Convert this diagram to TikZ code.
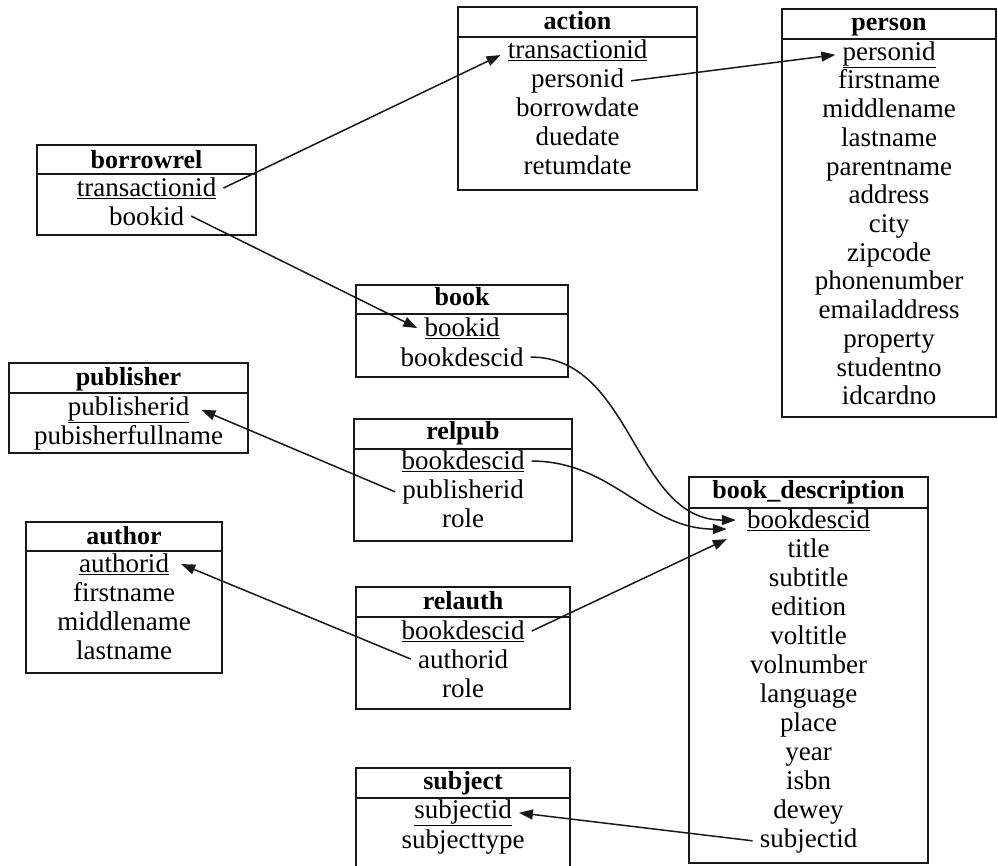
\documentclass[tikz,border=0pt]{standalone}
\usepackage{fontspec}
\setmainfont{Liberation Serif}
\usetikzlibrary{arrows.meta}
\begin{document}
\begin{tikzpicture}[x=1pt, y=-1pt,
  tabla/.style={draw=black!90, line width=1.8pt},
  titulo/.style={font=\fontsize{26}{26}\selectfont\bfseries, anchor=mid, inner sep=0pt, yshift=-5pt},
  campo/.style={font=\fontsize{27}{27}\selectfont, anchor=mid, inner xsep=7pt, inner ysep=1pt, yshift=-5pt},
  fk/.style={line width=1.5pt, black!90, -{Triangle[length=14pt,width=10pt]}}]
  \useasboundingbox (0,0) rectangle (998,865);
  % borrowrel
  \draw[tabla] (37,145) rectangle (256,235);
  \draw[tabla] (37,174) -- (256,174);
  \node[titulo] (borrowrel) at (146.5,161) {borrowrel};
  \node[campo] (borrowrel-transactionid) at (146.5,189) {\underline{transactionid}};
  \node[campo] (borrowrel-bookid) at (146.5,218) {bookid};
  % action
  \draw[tabla] (458,7) rectangle (697,190);
  \draw[tabla] (458,37) -- (697,37);
  \node[titulo] (action) at (577.5,22) {action};
  \node[campo] (action-transactionid) at (577.5,51) {\underline{transactionid}};
  \foreach \f [count=\i] in {personid,borrowdate,duedate,retumdate}
    \node[campo] (action-\f) at (577.5,51+29*\i) {\f};
  % person
  \draw[tabla] (782,9) rectangle (996,417);
  \draw[tabla] (782,39) -- (996,39);
  \node[titulo] (person) at (889,23) {person};
  \node[campo] (person-personid) at (889,53) {\underline{personid}};
  \foreach \f [count=\i] in {firstname,middlename,lastname,parentname,address,city,
      zipcode,phonenumber,emailaddress,property,studentno,idcardno}
    \node[campo] (person-\f) at (889,53+28.7*\i) {\f};
  % book
  \draw[tabla] (356,285) rectangle (568,377);
  \draw[tabla] (356,314) -- (568,314);
  \node[titulo] (book) at (462,298) {book};
  \node[campo] (book-bookid) at (462,329) {\underline{bookid}};
  \node[campo] (book-bookdescid) at (462,359) {bookdescid};
  % publisher
  \draw[tabla] (9,363) rectangle (248,453);
  \draw[tabla] (9,393) -- (248,393);
  \node[titulo] (publisher) at (128.5,378) {publisher};
  \node[campo] (publisher-publisherid) at (128.5,408) {\underline{publisherid}};
  \node[campo] (publisher-fullname) at (128.5,437) {pubisherfullname};
  % relpub
  \draw[tabla] (354,419) rectangle (572,541);
  \draw[tabla] (354,449) -- (572,449);
  \node[titulo] (relpub) at (463,432) {relpub};
  \node[campo] (relpub-bookdescid) at (463,462) {\underline{bookdescid}};
  \node[campo] (relpub-publisherid) at (463,491) {publisherid};
  \node[campo] (relpub-role) at (463,520) {role};
  % author
  \draw[tabla] (26,522) rectangle (222,673);
  \draw[tabla] (26,551) -- (222,551);
  \node[titulo] (author) at (124,537) {author};
  \node[campo] (author-authorid) at (124,565) {\underline{authorid}};
  \foreach \f [count=\i] in {firstname,middlename,lastname}
    \node[campo] (author-\f) at (124,565+29*\i) {\f};
  % relauth
  \draw[tabla] (356,587) rectangle (570,709);
  \draw[tabla] (356,617) -- (570,617);
  \node[titulo] (relauth) at (463,602) {relauth};
  \node[campo] (relauth-bookdescid) at (463,632) {\underline{bookdescid}};
  \node[campo] (relauth-authorid) at (463,661) {authorid};
  \node[campo] (relauth-role) at (463,690) {role};
  % subject
  \draw[tabla] (356,768) rectangle (570,872);
  \draw[tabla] (356,798) -- (570,798);
  \node[titulo] (subject) at (463,782) {subject};
  \node[campo] (subject-subjectid) at (463,811) {\underline{subjectid}};
  \node[campo] (subject-subjecttype) at (463,841) {subjecttype};
  % book_description
  \draw[tabla] (689,477) rectangle (928,863);
  \draw[tabla] (689,508) -- (928,508);
  \node[titulo] (bookdesc) at (808.5,491) {book\_description};
  \node[campo] (bookdesc-bookdescid) at (808.5,521) {\underline{bookdescid}};
  \foreach \f [count=\i] in {title,subtitle,edition,voltitle,volnumber,language,
      place,year,isbn,dewey,subjectid}
    \node[campo] (bookdesc-\f) at (808.5,521+29*\i) {\f};
  % relaciones
  \draw[fk] (borrowrel-transactionid.east) -- ([yshift=-5pt]action-transactionid.west);
  \draw[fk] (action-personid.east) -- (person-personid.west);
  \draw[fk] (borrowrel-bookid.east) -- (book-bookid.west);
  \draw[fk] (book-bookdescid.east) to[out=0, in=180] ([xshift=-4pt]bookdesc-bookdescid.west);
  \draw[fk] (relpub-bookdescid.east) to[out=0, in=180] ([xshift=-13pt, yshift=-9pt]bookdesc-bookdescid.west);
  \draw[fk] (relauth-bookdescid.east) -- ([xshift=-13pt, yshift=-19pt]bookdesc-bookdescid.west);
  \draw[fk] (relpub-publisherid.west) -- ([xshift=5pt]publisher-publisherid.east);
  \draw[fk] (relauth-authorid.west) -- ([xshift=5pt]author-authorid.east);
  \draw[fk] (bookdesc-subjectid.west) -- (subject-subjectid.east);
\end{tikzpicture}
\end{document}
